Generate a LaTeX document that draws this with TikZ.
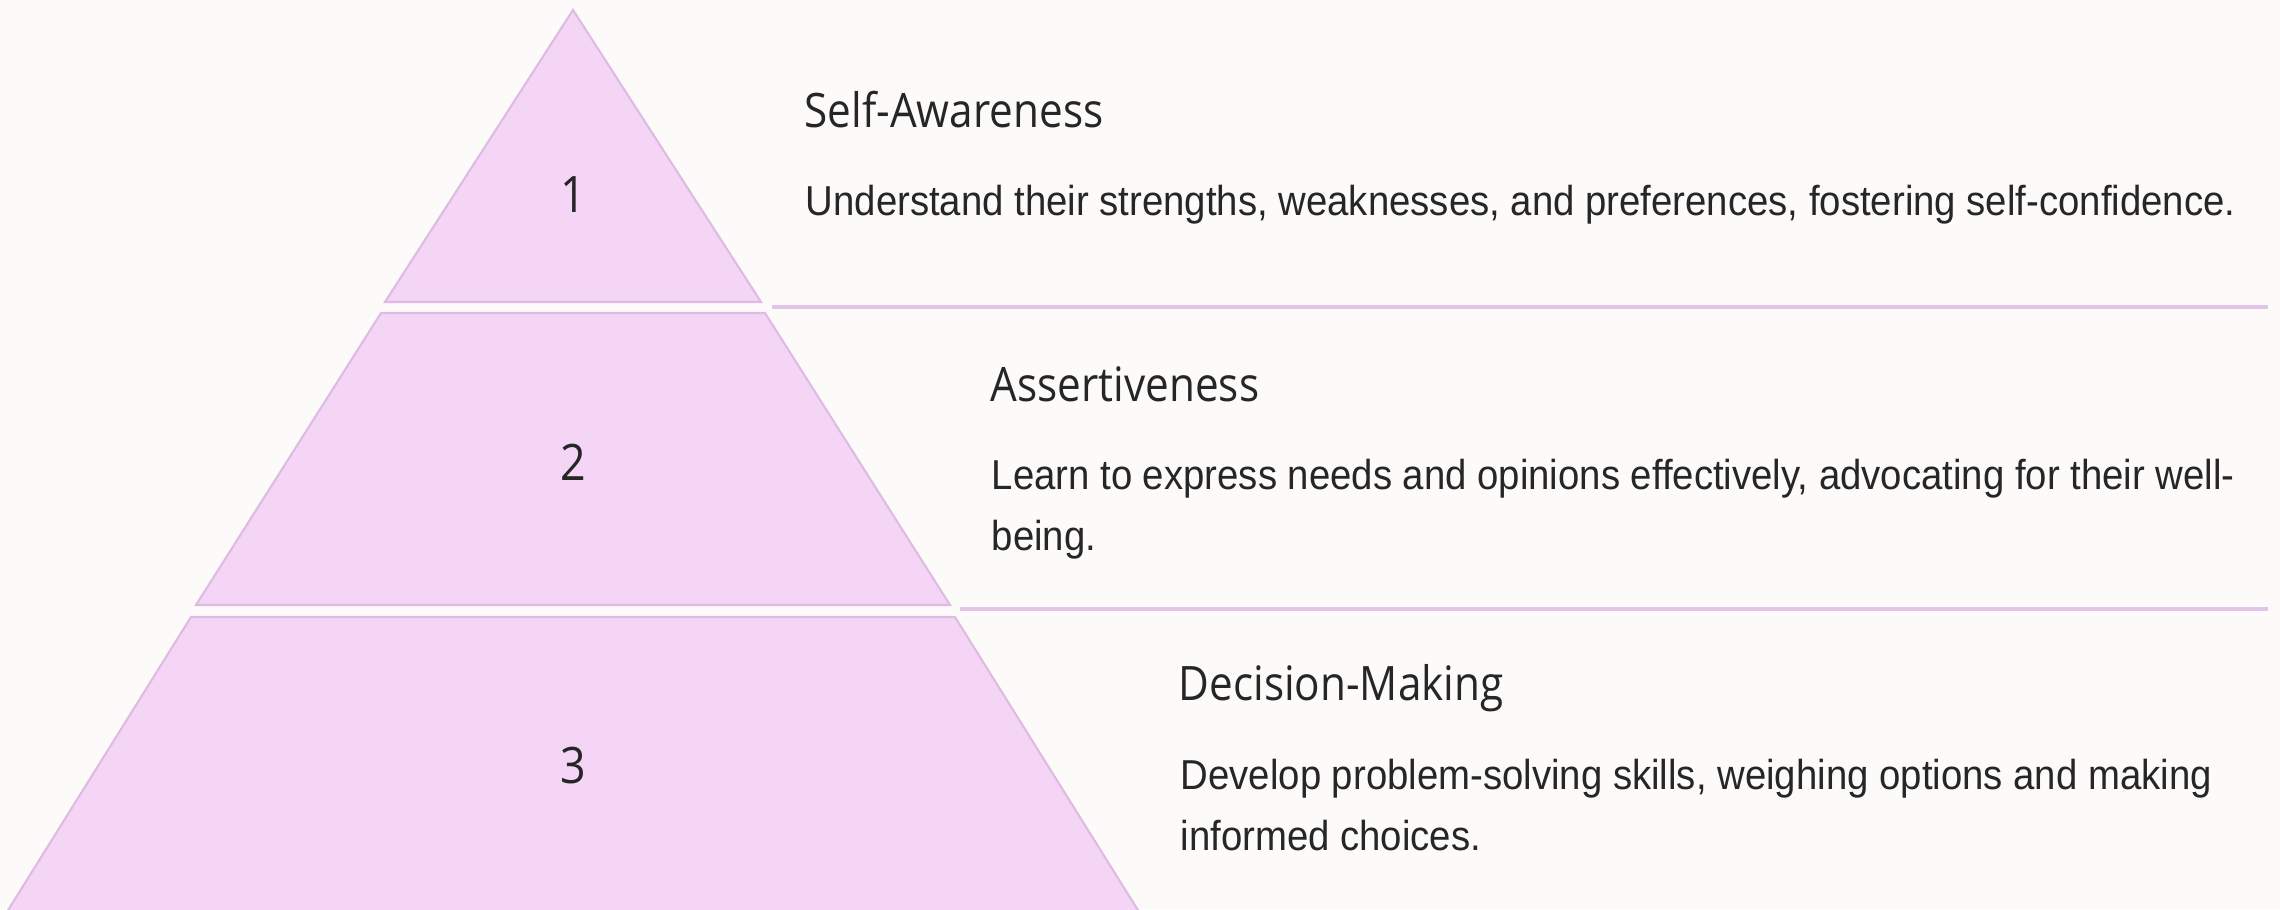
\documentclass[tikz,border=0pt]{standalone}
\usepackage{fontspec}
\setmainfont{Liberation Sans}
\newfontfamily\bodyfont{Liberation Sans}[FakeStretch=0.916]
\newfontfamily\headfont{Open Sans}[FakeStretch=0.89]

\definecolor{bgc}{RGB}{252,251,250}
\definecolor{tierfill}{RGB}{244,213,246}
\definecolor{tieredge}{RGB}{222,188,226}
\definecolor{rulecol}{RGB}{226,196,232}
\definecolor{inkc}{RGB}{38,38,38}

\tikzset{
  tier/.style={fill=tierfill, draw=tieredge, line width=0.6pt, line join=miter},
  rule/.style={draw=rulecol, line width=0.9pt},
  num/.style={inner sep=0pt, text=inkc, font=\headfont\fontsize{14.3pt}{16pt}\selectfont},
  head/.style={inner sep=0pt, anchor=base west, text=inkc, font=\headfont\fontsize{13.5pt}{16pt}\selectfont},
  desc/.style={inner sep=0pt, anchor=base west, align=left, text=inkc, font=\bodyfont\fontsize{11.9pt}{17.1pt}\selectfont},
}

\begin{document}
\begin{tikzpicture}[x=0.01cm,y=-0.01cm]
  % page background
  \fill[bgc] (0,0) rectangle (2280,909);
  \useasboundingbox (0,0) rectangle (2280,909);

  % pyramid tiers
  \begin{scope}
    \clip (0,0) rectangle (2280,909);
    \draw[tier] (573,10) -- (761,302) -- (385,302) -- cycle;
    \draw[tier] (381,313) -- (765,313) -- (950,605) -- (196,605) -- cycle;
    \draw[tier] (191,617) -- (955,617) -- (1141,915) -- (5,915) -- cycle;
  \end{scope}

  % separators between the rows of text
  \coordinate (r1a) at (772,307);
  \coordinate (r1b) at (2268,307);
  \coordinate (r2a) at (960,609);
  \coordinate (r2b) at (2268,609);
  \draw[rule] (r1a) -- (r1b);
  \draw[rule] (r2a) -- (r2b);

  % tier numbers
  \node[num] (n1) at (573,195) {1};
  \node[num] (n2) at (573,462) {2};
  \node[num] (n3) at (573,766) {3};

  % headings and descriptions (a wrapped description sits on the baseline of its last line)
  \node[head] (t1) at (804,127) {Self-Awareness};
  \node[desc] (d1) at (805,215) {Understand their strengths, weaknesses, and preferences, fostering self-confidence.};

  \node[head] (t2) at (990,401) {Assertiveness};
  \node[desc] (d2) at (991,550) {Learn to express needs and opinions effectively, advocating for their well-\\being.};

  \node[head] (t3) at (1178,700) {Decision-Making};
  \node[desc] (d3) at (1180,850) {Develop problem-solving skills, weighing options and making\\informed choices.};
\end{tikzpicture}
\end{document}
